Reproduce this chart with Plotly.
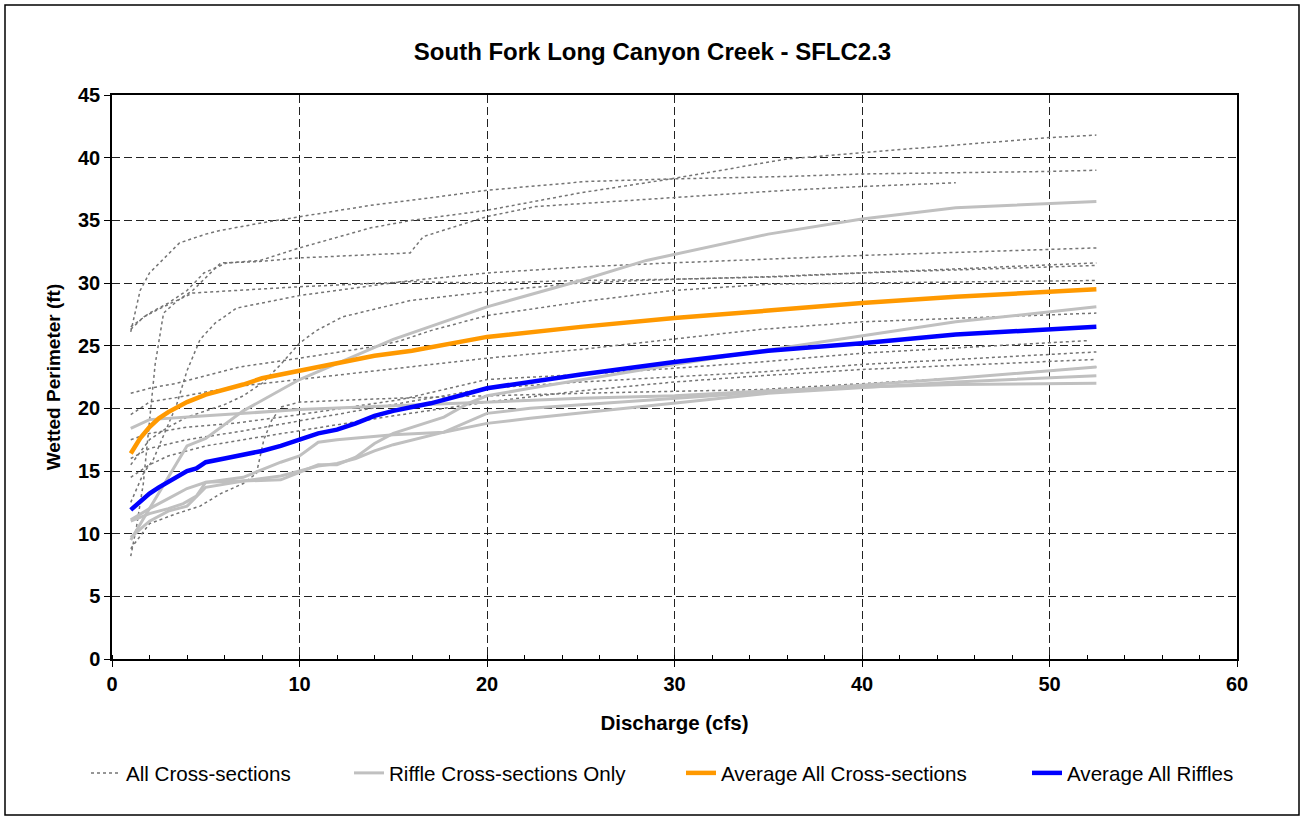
import plotly.graph_objects as go

# ---------------- data ----------------
# All cross-sections (dotted)
xs_a_q = [1, 1.5, 2, 3, 3.6, 5, 5.8, 8, 10, 13.8, 17, 20, 25.3, 29.8, 36, 40, 50, 52.5]
xs_a_wp = [26.1, 29.4, 30.8, 32.3, 33.2, 33.9, 34.2, 34.8, 35.3, 36.2, 36.8, 37.4, 38.1, 38.3, 38.5, 38.7, 38.9, 39.0]
xs_b_q = [1, 2, 3, 4, 4.9, 6.1, 7.9, 10, 13.8, 16, 20, 22.6, 25, 29.8, 36, 40, 45, 50, 52.5]
xs_b_wp = [26.5, 27.6, 28.4, 29.4, 30.8, 31.6, 31.8, 32.8, 34.4, 35.0, 35.8, 36.5, 37.2, 38.3, 39.9, 40.4, 41.0, 41.6, 41.8]
xs_c_q = [1, 1.3, 1.67, 2, 2.3, 2.75, 3.5, 4.3, 5.8, 7.7, 10, 15.9, 16.6, 20, 22.6, 29.8, 36, 40, 45]
xs_c_wp = [8.2, 10.5, 14.0, 19.0, 23.5, 27.6, 28.6, 29.4, 31.6, 31.7, 32.0, 32.4, 33.7, 35.3, 36.1, 36.8, 37.4, 37.7, 38.0]
xs_d_q = [1, 1.67, 2.2, 2.9, 3.45, 4, 4.7, 5.5, 6.65, 10, 15.4, 20, 25.3, 29.8, 36, 40, 52.5]
xs_d_wp = [12.5, 14.8, 15.9, 18.3, 20.3, 23.0, 25.5, 26.8, 28.0, 29.0, 30.1, 30.8, 31.3, 31.6, 32.0, 32.2, 32.8]
xs_e_q = [1, 2, 3, 4, 5, 6, 7, 8, 9, 10, 10.9, 12.3, 15.9, 20, 25, 30, 35, 40, 52.5]
xs_e_wp = [15.5, 17.5, 18.5, 19.3, 19.8, 20.3, 21.0, 22.0, 23.5, 25.2, 26.2, 27.3, 28.6, 29.3, 30.0, 30.3, 30.5, 30.8, 31.6]
xs_f_q = [1, 1.7, 2.6, 4.3, 10, 15.9, 20, 25, 30, 35.6, 40, 52.5]
xs_f_wp = [26.3, 27.3, 28.0, 29.2, 29.7, 30.1, 30.0, 30.2, 30.3, 30.5, 30.8, 31.4]
xs_g_q = [1, 2, 3.45, 5, 6.8, 10, 14.3, 15.4, 17, 20, 25, 29.9, 35, 40, 52.5]
xs_g_wp = [21.2, 21.6, 22.0, 22.6, 23.3, 24.0, 25.0, 25.4, 26.2, 27.4, 28.5, 29.4, 29.9, 30.0, 30.2]
xs_h_q = [1, 2, 3.6, 5, 7, 10, 15.4, 20, 25, 29.9, 34.6, 40, 52.5]
xs_h_wp = [19.5, 20.5, 20.9, 21.3, 21.8, 22.3, 23.2, 24.0, 24.7, 25.5, 26.3, 26.9, 27.6]
xs_i_q = [1, 2, 4, 6.5, 10, 15.4, 20, 25, 30, 34.6, 40, 50, 52]
xs_i_wp = [17.5, 18.0, 18.5, 18.8, 19.5, 20.7, 22.3, 22.7, 23.2, 23.7, 24.4, 25.2, 25.4]
xs_j_q = [1, 2, 4, 7, 10, 15, 20, 25, 30, 34.6, 40, 52.5]
xs_j_wp = [16.0, 16.8, 17.5, 18.2, 19.0, 20.3, 21.6, 22.1, 22.5, 22.9, 23.5, 24.5]
xs_k_q = [1, 2, 3, 5, 7, 10, 15, 20, 25, 30, 34.6, 40, 52.5]
xs_k_wp = [14.5, 15.5, 16.2, 17.0, 17.5, 18.2, 19.4, 20.5, 21.4, 22.1, 22.6, 23.1, 23.9]
xs_l_q = [1, 2, 3.45, 4.7, 5.8, 7, 7.7, 8.1, 8.5, 9, 10, 15, 20, 25, 34.6, 45, 52.5]
xs_l_wp = [8.8, 10.8, 11.6, 12.2, 13.2, 14.0, 14.8, 17.5, 19.0, 20.1, 20.5, 20.8, 21.0, 21.2, 21.5, 22.4, 23.3]

# Riffle cross-sections only (solid light grey)
rif_1_q = [1, 2, 3, 4, 5, 7, 10, 15, 20, 25, 28.5, 35, 40, 45, 52.5]
rif_1_wp = [9.5, 12.0, 14.5, 17.0, 17.6, 19.8, 22.3, 25.5, 28.1, 30.2, 31.8, 33.9, 35.1, 36.0, 36.5]
rif_2_q = [1, 2, 3, 4, 5, 7, 9, 10, 11, 12, 13, 14, 15, 17.7, 19, 20, 22.3, 30, 35.6, 45, 52.5]
rif_2_wp = [11.1, 12.0, 12.8, 13.6, 14.1, 14.2, 14.3, 14.9, 15.5, 15.5, 16.1, 17.2, 18.0, 19.3, 20.4, 21.0, 21.6, 23.5, 24.8, 26.9, 28.1]
rif_3_q = [1, 2, 5, 10, 15, 20, 25, 30, 35, 40, 45, 52.5]
rif_3_wp = [18.4, 19.1, 19.4, 19.9, 20.2, 20.5, 20.8, 21.0, 21.4, 21.7, 21.9, 22.0]
rif_4_q = [1, 2, 3, 3.8, 4.5, 5, 7, 9, 10, 11, 12, 15, 17.7, 20, 22.3, 30, 35, 45, 52.5]
rif_4_wp = [11.0, 11.6, 12.0, 12.4, 13.0, 14.1, 14.5, 15.7, 16.2, 17.3, 17.5, 17.9, 18.1, 18.8, 19.2, 20.4, 21.2, 22.1, 22.6]
rif_5_q = [1, 2, 3, 4, 5, 7, 9, 10, 11, 12, 13, 14, 15, 17.7, 20, 22.3, 30, 35, 45, 52.5]
rif_5_wp = [9.7, 11.0, 11.8, 12.2, 13.7, 14.2, 14.6, 15.0, 15.4, 15.6, 16.0, 16.6, 17.1, 18.1, 19.6, 20.0, 20.8, 21.3, 22.4, 23.3]

# Averages
avg_all_q = [1, 1.5, 2, 2.5, 3, 4, 5, 6, 7, 8, 10, 12, 14, 16, 20, 25, 30, 35, 40, 45, 52.5]
avg_all_wp = [16.4, 17.6, 18.5, 19.2, 19.7, 20.5, 21.1, 21.5, 21.9, 22.4, 23.0, 23.6, 24.2, 24.6, 25.7, 26.5, 27.2, 27.8, 28.4, 28.9, 29.5]
avg_rif_q = [1, 1.5, 2, 2.5, 3, 3.5, 4, 4.5, 5, 6, 7, 8, 9, 10, 11, 12, 13, 14, 15, 16, 17, 18, 19, 20, 25, 30, 35, 40, 45, 52.5]
avg_rif_wp = [11.9, 12.6, 13.2, 13.7, 14.1, 14.5, 15.0, 15.2, 15.7, 16.0, 16.3, 16.6, 17.0, 17.5, 18.0, 18.3, 18.8, 19.4, 19.8, 20.1, 20.4, 20.8, 21.2, 21.6, 22.7, 23.7, 24.6, 25.2, 25.9, 26.5]

series_names = ["All Cross-sections", "Riffle Cross-sections Only",
                "Average All Cross-sections", "Average All Riffles"]
chart_title = "South Fork Long Canyon Creek - SFLC2.3"
x_title = "Discharge (cfs)"
y_title = "Wetted Perimeter (ft)"

all_xs = [(xs_a_q, xs_a_wp), (xs_b_q, xs_b_wp), (xs_c_q, xs_c_wp), (xs_d_q, xs_d_wp),
          (xs_e_q, xs_e_wp), (xs_f_q, xs_f_wp), (xs_g_q, xs_g_wp), (xs_h_q, xs_h_wp),
          (xs_i_q, xs_i_wp), (xs_j_q, xs_j_wp), (xs_k_q, xs_k_wp), (xs_l_q, xs_l_wp)]
riffles = [(rif_1_q, rif_1_wp), (rif_2_q, rif_2_wp), (rif_3_q, rif_3_wp),
           (rif_4_q, rif_4_wp), (rif_5_q, rif_5_wp)]

# ---------------- figure ----------------
W, H = 1305, 820
ML, MR, MT, MB = 112, 68, 95, 161
PW, PH = W - ML - MR, H - MT - MB

def px_x(p):
    return (p - ML) / PW

def px_y(p):
    return (H - MB - p) / PH

FONT = "Liberation Sans, Arial, sans-serif"

fig = go.Figure()

for i, (q, wp) in enumerate(all_xs):
    fig.add_trace(go.Scatter(x=q, y=wp, mode="lines", name=series_names[0],
                             line=dict(color="#747474", width=1.5, dash="3px,3px"),
                             showlegend=(i == 0), legend="legend", hoverinfo="skip"))
for i, (q, wp) in enumerate(riffles):
    fig.add_trace(go.Scatter(x=q, y=wp, mode="lines", name=series_names[1],
                             line=dict(color="#C0C0C0", width=3),
                             showlegend=(i == 0), legend="legend2", hoverinfo="skip"))
fig.add_trace(go.Scatter(x=avg_all_q, y=avg_all_wp, mode="lines", name=series_names[2],
                         line=dict(color="#FF9900", width=4.5), legend="legend3"))
fig.add_trace(go.Scatter(x=avg_rif_q, y=avg_rif_wp, mode="lines", name=series_names[3],
                         line=dict(color="#0000FF", width=4.5), legend="legend4"))

axis_common = dict(
    showgrid=True, gridcolor="#222222", gridwidth=1, griddash="8px,4px",
    showline=True, linecolor="black", linewidth=1.5, mirror=True,
    ticks="outside", ticklen=6, tickwidth=1, tickcolor="black",
    zeroline=False,
    tickfont=dict(family=FONT, size=20, color="black", weight="bold"),
)

leg_common = dict(orientation="h", yanchor="middle", y=px_y(773), xanchor="left",
                  font=dict(family=FONT, size=20.6, color="black"),
                  bgcolor="rgba(0,0,0,0)", borderwidth=0)

fig.update_layout(
    width=W, height=H, autosize=False,
    margin=dict(l=ML, r=MR, t=MT, b=MB, pad=0),
    paper_bgcolor="white", plot_bgcolor="white",
    title=dict(text=chart_title, x=0.5, xanchor="center", xref="container",
               y=1 - 52 / H, yanchor="middle", yref="container",
               font=dict(family=FONT, size=24, color="black", weight="bold")),
    xaxis=dict(range=[0, 60], tick0=0, dtick=10,
               minor=dict(dtick=2, ticks="inside", ticklen=4, tickcolor="black", showgrid=False),
               title=dict(text=x_title, standoff=22,
                          font=dict(family=FONT, size=20.5, color="black", weight="bold")),
               **axis_common),
    yaxis=dict(range=[0, 45], tick0=0, dtick=5,
               title=dict(text=y_title, standoff=12,
                          font=dict(family=FONT, size=19, color="black", weight="bold")),
               **axis_common),
    legend=dict(x=px_x(86), **leg_common),
    legend2=dict(x=px_x(349), **leg_common),
    legend3=dict(x=px_x(681), **leg_common),
    legend4=dict(x=px_x(1027), **leg_common),
    shapes=[dict(type="rect", xref="paper", yref="paper",
                 x0=px_x(5), x1=px_x(1299), y0=px_y(815), y1=px_y(5),
                 line=dict(color="black", width=1.5), fillcolor="rgba(0,0,0,0)",
                 layer="below")],
    showlegend=True,
)

fig.write_html("out.html", config={"displayModeBar": False},
               post_script="document.body.style.margin='0';")
